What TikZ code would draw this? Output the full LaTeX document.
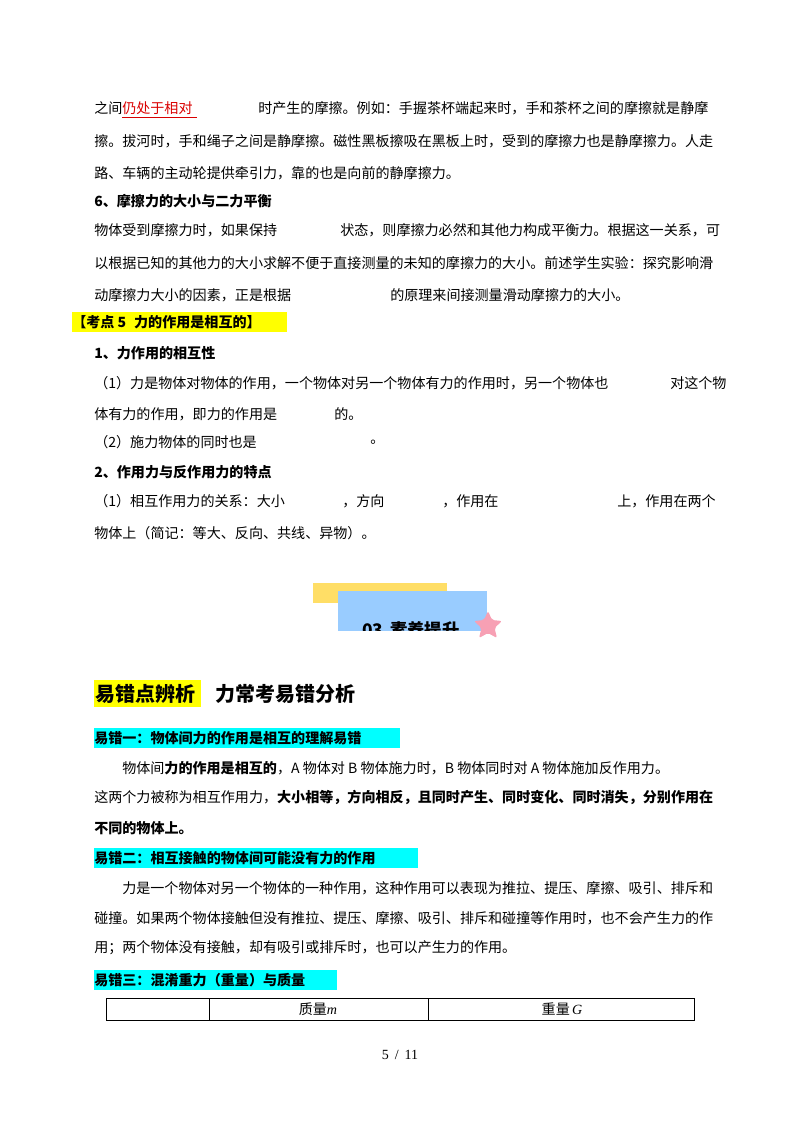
\documentclass[tikz,border=0pt]{standalone}
\usepackage{fontspec}
\setmainfont{Noto Sans CJK SC}
\newfontfamily\serifm{Liberation Serif}
\definecolor{hly}{RGB}{255,255,0}
\definecolor{hlc}{RGB}{0,255,255}
\definecolor{bany}{RGB}{255,222,102}
\definecolor{banb}{RGB}{153,204,255}
\definecolor{starpink}{RGB}{247,160,180}
\begin{document}
\begin{tikzpicture}[x=0.75pt,y=-0.75pt,
  tx/.style={anchor=west,inner sep=0pt,font=\fontsize{10.55pt}{12pt}\selectfont},
  bx/.style={tx,font=\fontsize{10.55pt}{12pt}\selectfont\bfseries}]
\useasboundingbox (0,0) rectangle (800,1132);
% highlights
\fill[hly] (72,312) rectangle (287,332);
\fill[hly] (94,680) rectangle (201,707);
\fill[hlc] (94,728) rectangle (400,748);
\fill[hlc] (94,848) rectangle (418,868);
\fill[hlc] (94,970) rectangle (337,990);
% top paragraph
\node[tx] (a1) at (94,108) {之间};
\node[tx,text=red!85!black] (a2) at (122,108) {仍处于相对};
\draw[red!85!black] (122,117) -- (197,117);
\node[tx] (a3) at (258,108) {时产生的摩擦。例如：手握茶杯端起来时，手和茶杯之间的摩擦就是静摩};
\node[tx] (a4) at (94,141) {擦。拔河时，手和绳子之间是静摩擦。磁性黑板擦吸在黑板上时，受到的摩擦力也是静摩擦力。人走};
\node[tx] (a5) at (94,173) {路、车辆的主动轮提供牵引力，靠的也是向前的静摩擦力。};
\node[bx] (h6) at (94,201) {6、摩擦力的大小与二力平衡};
\node[tx] (b1) at (94,230) {物体受到摩擦力时，如果保持};
\node[tx] (b2) at (340,230) {状态，则摩擦力必然和其他力构成平衡力。根据这一关系，可};
\node[tx] (b3) at (94,263) {以根据已知的其他力的大小求解不便于直接测量的未知的摩擦力的大小。前述学生实验：探究影响滑};
\node[tx] (b4) at (94,295) {动摩擦力大小的因素，正是根据};
\node[tx] (b5) at (390,295) {的原理来间接测量滑动摩擦力的大小。};
\node[bx] (k5) at (72,322) {【考点 5\,\, 力的作用是相互的】};
\node[bx] (c0) at (94,353) {1、力作用的相互性};
\node[tx] (c1) at (94,383) {（1）力是物体对物体的作用，一个物体对另一个物体有力的作用时，另一个物体也};
\node[tx] (c2) at (670,383) {对这个物};
\node[tx] (c3) at (94,414) {体有力的作用，即力的作用是};
\node[tx] (c4) at (334,414) {的。};
\node[tx] (c5) at (94,442) {（2）施力物体的同时也是};
\node[tx] (c6) at (370,442) {。};
\node[bx] (d0) at (94,472) {2、作用力与反作用力的特点};
\node[tx] (d1) at (94,501) {（1）相互作用力的关系：大小};
\node[tx] (d2) at (342,501) {，方向};
\node[tx] (d3) at (442,501) {，作用在};
\node[tx] (d4) at (617,501) {上，作用在两个};
\node[tx] (d5) at (94,533) {物体上（简记：等大、反向、共线、异物）。};
% banner
\fill[bany] (313,583) rectangle (447,603);
\fill[banb] (338,591) rectangle (487,631);
\begin{scope}
\clip (338,591) rectangle (487,630);
\node[bx,font=\fontsize{13pt}{14pt}\selectfont\bfseries] (ban) at (362,630) {03\,\ 素养提升};
\end{scope}
\fill[starpink,rounded corners=1.5pt] (488,611) -- (492,620) -- (502,621) -- (494.5,628) -- (497,638) -- (488,633) -- (479,638) -- (481.5,628) -- (474,621) -- (484,620) -- cycle;
% title
\node[bx,font=\fontsize{15pt}{17pt}\selectfont\bfseries] (ttl) at (95,694) {易错点辨析\quad 力常考易错分析};
\node[bx] (e1) at (94,738) {易错一：物体间力的作用是相互的理解易错};
\node[tx] (e2) at (122,768) {物体间\textbf{力的作用是相互的}，A 物体对 B 物体施力时，B 物体同时对 A 物体施加反作用力。};
\node[tx] (e3) at (94,797) {这两个力被称为相互作用力，\textbf{大小相等，方向相反，且同时产生、同时变化、同时消失，分别作用在}};
\node[bx] (e4) at (94,828) {不同的物体上。};
\node[bx] (f1) at (94,858) {易错二：相互接触的物体间可能没有力的作用};
\node[tx] (f2) at (122,888) {力是一个物体对另一个物体的一种作用，这种作用可以表现为推拉、提压、摩擦、吸引、排斥和};
\node[tx] (f3) at (94,918) {碰撞。如果两个物体接触但没有推拉、提压、摩擦、吸引、排斥和碰撞等作用时，也不会产生力的作};
\node[tx] (f4) at (94,948) {用；两个物体没有接触，却有吸引或排斥时，也可以产生力的作用。};
\node[bx] (g1) at (94,980) {易错三：混淆重力（重量）与质量};
% table
\draw[line width=0.6pt] (106,998) rectangle (694,1020);
\draw[line width=0.6pt] (209,998) -- (209,1020) (428,998) -- (428,1020);
\node[tx,anchor=center] (m) at (318,1009) {质量{\serifm\itshape m}};
\node[tx,anchor=center] (gg) at (562,1009) {重量\,{\serifm\itshape G}};
\node[tx,anchor=center,font=\serifm\fontsize{10.5pt}{12pt}\selectfont] (pg) at (400,1055) {5\,\ /\,\ 11};
\end{tikzpicture}
\end{document}
